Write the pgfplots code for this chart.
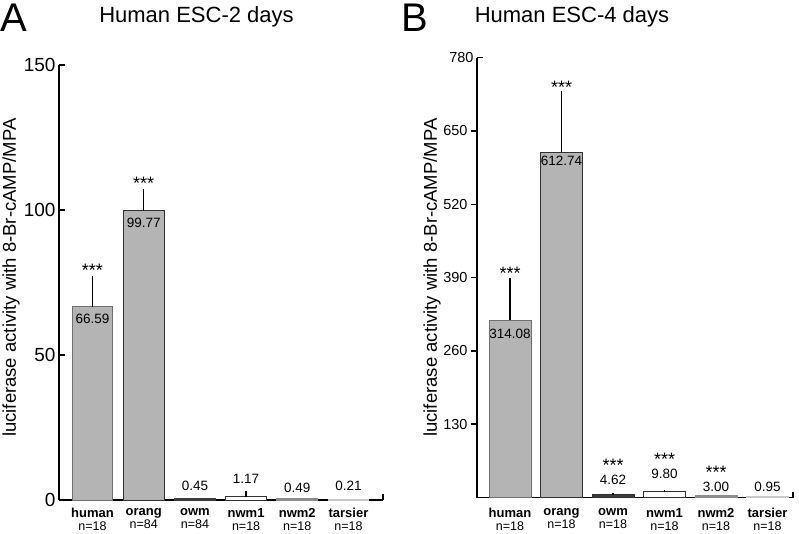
\documentclass[border=0pt]{standalone}
\usepackage{fontspec}
\setmainfont{Liberation Sans}
\usepackage{pgfplots}
\pgfplotsset{compat=1.18}
\usepackage{pgfplotstable}

\definecolor{barfill}{HTML}{B4B4B4}
\definecolor{edgeA}{HTML}{707070}
\definecolor{edgeB}{HTML}{303030}
\definecolor{owmfill}{HTML}{3C3C3C}
\definecolor{nwmtwo}{HTML}{8C8C8C}
\definecolor{tarsfill}{HTML}{C8C8C8}

\newcommand\nlab[1]{{\fontsize{12.5}{13}\selectfont\mdseries #1}}

% value labels: x, label y-position, text
\pgfplotstableread{
x ly lab
1 62.4 66.59
2 95.6 99.77
3 4.8 0.45
4 7.2 1.17
5 4.1 0.49
6 4.8 0.21
}\labA
\pgfplotstableread{
x sy
1 76.9
2 106.9
}\starA
\pgfplotstableread{
x ly lab
1 291 314.08
2 596.8 612.74
3 31 4.62
4 41.7 9.80
5 18.6 3.00
6 18.6 0.95
}\labB
\pgfplotstableread{
x sy
1 385.8
2 715.7
3 45.5
4 57.5
5 33.0
}\starB

\pgfplotsset{
  panel/.style={
    scale only axis, clip=false,
    axis lines=left,
    axis line style={-, line width=1.5pt},
    ymin=0,
    xtick={1,2,3,4,5,6},
    xticklabel style={align=center, font=\fontsize{13}{14}\selectfont},
    x tick style={draw=none},
    y tick style={line width=1.5pt, black},
    major tick length=6pt,
    /pgf/number format/assume math mode=true,
    ylabel={luciferase activity with 8-Br-cAMP/MPA},
    ylabel style={font=\fontsize{18.5}{20}\selectfont, anchor=center},
  },
  onebar/.style={ybar, bar shift=0pt, line width=1pt,
    error bars/y dir=plus, error bars/y explicit, error bars/error mark=none,
    error bars/error bar style={line width=1.5pt, black}},
  vlab/.style={draw=none, no marks, nodes near coords, point meta=explicit symbolic,
    every node near coord/.append style={anchor=center, font=\fontsize{13.5}{14}\selectfont, inner sep=0pt}},
  slab/.style={draw=none, no marks, nodes near coords={***},
    every node near coord/.append style={anchor=base, font=\fontsize{18}{18}\selectfont, inner sep=0pt}},
}

\begin{document}
\begin{tikzpicture}
\useasboundingbox (0pt,0pt) rectangle (799pt,533pt);

\node[anchor=base west, inner sep=0pt, font=\fontsize{40}{40}\selectfont] at (0pt,501pt) {A};
\node[anchor=base west, inner sep=0pt, font=\fontsize{40}{40}\selectfont] at (401pt,501pt) {B};
\node[anchor=base, inner sep=0pt, font=\fontsize{22}{22}\selectfont] at (196.5pt,510pt) {Human ESC-2 days};
\node[anchor=base, inner sep=0pt, font=\fontsize{22}{22}\selectfont] at (572pt,510pt) {Human ESC-4 days};

% ---------- Panel A ----------
\begin{axis}[panel, at={(59pt,33pt)}, anchor=south west,
  width=324pt, height=435pt,
  xmin=0.346, xmax=6.674, ymax=150,
  xticklabels={{\textbf{human}\\[-1pt]\nlab{n=18}},{\textbf{orang}\\[-1pt]\nlab{n=84}},{\textbf{owm}\\[-1pt]\nlab{n=84}},{\textbf{nwm1}\\[-1pt]\nlab{n=18}},{\textbf{nwm2}\\[-1pt]\nlab{n=18}},{\textbf{tarsier}\\[-1pt]\nlab{n=18}}},
  xticklabel style={yshift=-5pt},
  ytick={0,50,100,150}, tick align=inside,
  yticklabel style={font=\fontsize{19}{20}\selectfont},
  ylabel style={at={(axis description cs:-0.148,0.511)}},
  bar width=0.8,
]
\addplot[onebar, fill=barfill, draw=edgeA] coordinates {(1,66.59) +- (0,10.6)};
\addplot[onebar, fill=barfill, draw=edgeB] coordinates {(2,99.77) +- (0,7.5)};
\addplot[onebar, fill=owmfill, draw=owmfill] coordinates {(3,0.45) +- (0,0)};
\addplot[onebar, fill=white, draw=edgeB] coordinates {(4,1.17) +- (0,1.8)};
\addplot[onebar, fill=nwmtwo, draw=nwmtwo] coordinates {(5,0.49) +- (0,0)};
\addplot[onebar, fill=tarsfill, draw=tarsfill] coordinates {(6,0.21) +- (0,0)};
\addplot[vlab] table[x=x, y=ly, meta=lab] {\labA};
\addplot[slab] table[x=x, y=sy] {\starA};
\draw[line width=1.5pt] (axis cs:6.674,0) -- ++(0pt,6pt);
\end{axis}

% ---------- Panel B ----------
\begin{axis}[panel, at={(477pt,35.5pt)}, anchor=south west,
  width=316pt, height=439.8pt,
  xmin=0.359, xmax=6.495, ymax=780,
  xticklabels={{\textbf{human}\\[-1pt]\nlab{n=18}},{\textbf{orang}\\[-1pt]\nlab{n=18}},{\textbf{owm}\\[-1pt]\nlab{n=18}},{\textbf{nwm1}\\[-1pt]\nlab{n=18}},{\textbf{nwm2}\\[-1pt]\nlab{n=18}},{\textbf{tarsier}\\[-1pt]\nlab{n=18}}},
  xticklabel style={yshift=-1.5pt},
  ytick={130,260,390,520,650}, tick align=outside,
  extra y ticks={780}, extra y tick style={tick align=inside},
  yticklabel style={font=\fontsize{14.5}{15}\selectfont},
  ylabel style={at={(axis description cs:-0.142,0.5)}},
  bar width=0.815,
]
\addplot[onebar, fill=barfill, draw=edgeA] coordinates {(1,314.08) +- (0,75.2)};
\addplot[onebar, fill=barfill, draw=edgeB] coordinates {(2,612.74) +- (0,108.8)};
\addplot[onebar, fill=owmfill, draw=edgeB] coordinates {(3,4.62) +- (0,4)};
\addplot[onebar, fill=white, draw=edgeB] coordinates {(4,9.80) +- (0,4)};
\addplot[onebar, fill=nwmtwo, draw=nwmtwo] coordinates {(5,3.00) +- (0,0)};
\addplot[onebar, fill=tarsfill, draw=tarsfill] coordinates {(6,0.95) +- (0,0)};
\addplot[vlab] table[x=x, y=ly, meta=lab] {\labB};
\addplot[slab] table[x=x, y=sy] {\starB};
\draw[line width=1.5pt] (axis cs:6.495,0) -- ++(0pt,6pt);
\end{axis}
\end{tikzpicture}
\end{document}
